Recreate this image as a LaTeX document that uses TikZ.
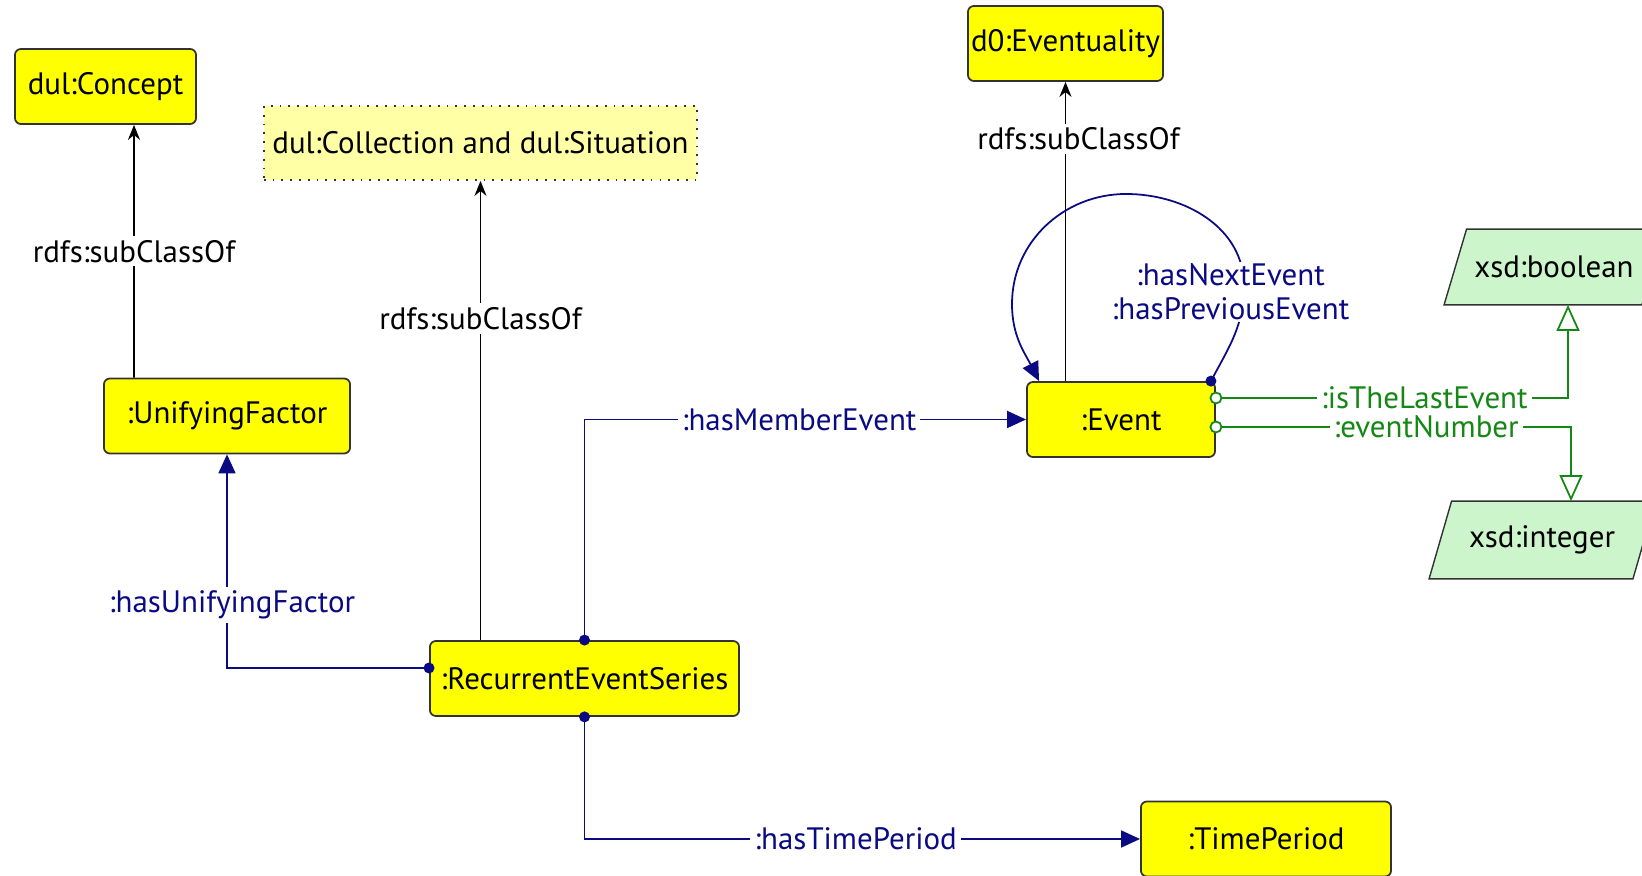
\documentclass[tikz,border=0pt]{standalone}
\usepackage{fontspec}
\setmainfont{PT Sans}
\usetikzlibrary{arrows.meta,backgrounds,positioning}
\definecolor{clsyellow}{RGB}{255,255,0}
\definecolor{anonyellow}{RGB}{255,255,165}
\definecolor{dtgreen}{RGB}{204,245,204}
\definecolor{objblue}{RGB}{10,10,130}
\definecolor{dpgreen}{RGB}{20,135,20}
\definecolor{boxline}{RGB}{50,50,50}

\begin{document}
\begin{tikzpicture}[
    x = 0.01cm, y = 0.01cm, % one unit is one pixel of the drawing
    font = \fontsize{8.8}{9.6}\selectfont,
    line width = 0.5pt % line style
  ]

  \tikzset{
    cls/.style = {rectangle, rounded corners = 0.06cm, draw = boxline, fill = clsyellow,
      minimum height = 0.75cm, inner sep = 0pt},
    anon/.style = {rectangle, draw = boxline, dotted, fill = anonyellow,
      minimum height = 0.74cm, inner sep = 0pt},
    dtype/.style = {rectangle, minimum height = 0.75cm, inner sep = 0pt},
    dtshape/.style = {draw = boxline, fill = dtgreen},
    lbl/.style = {fill = white, inner sep = 0.04cm},
    objlbl/.style = {lbl, text = objblue},
    datalbl/.style = {lbl, text = dpgreen},
    subcls/.style = {draw = black, -{Stealth[length = 0.15cm, width = 0.12cm]}},
    objprop/.style = {draw = objblue, -{Triangle[length = 0.19cm, width = 0.17cm]}},
    dataprop/.style = {draw = dpgreen, -{Triangle[open, fill = white, length = 0.26cm, width = 0.23cm]}},
    dot/.style = {fill = objblue},
    ring/.style = {draw = dpgreen, fill = white}
  }

  \useasboundingbox (0, 0) rectangle (1642, 876);

  % classes
  \node[cls, minimum width = 1.81cm] (concept) at (105.5, 789.5) {dul:Concept};
  \node[anon, minimum width = 4.33cm] (collection) at (480.5, 733) {dul:Collection and dul:Situation};
  \node[cls, minimum width = 1.95cm] (eventuality) at (1065.5, 832.5) {d0:Eventuality};
  \node[cls, minimum width = 2.46cm] (unifying) at (227, 460) {:UnifyingFactor};
  \node[cls, minimum width = 1.88cm] (event) at (1121, 456.5) {:Event};
  \node[cls, minimum width = 3.09cm] (series) at (584.5, 197.5) {:RecurrentEventSeries};
  \node[cls, minimum width = 2.50cm] (period) at (1266, 37) {:TimePeriod};

  % datatypes
  \node[dtype, minimum width = 1.96cm, minimum height = 0.74cm] (boolean) at (1554, 609) {xsd:boolean};
  \node[dtype, minimum width = 2.02cm, minimum height = 0.76cm] (integer) at (1542, 336) {xsd:integer};
  \begin{scope}[on background layer]
    \foreach \dt in {boolean, integer}
      \draw[dtshape] ([xshift = -0.11cm]\dt.south west) -- ([xshift = 0.115cm]\dt.north west)
        -- ([xshift = 0.115cm]\dt.north east) -- ([xshift = -0.11cm]\dt.south east) -- cycle;
  \end{scope}

  % subclass links
  \draw[subcls] ([xshift = -0.93cm]unifying.north) -- node[lbl] {rdfs:subClassOf} ([xshift = 0.285cm]concept.south);
  \draw[subcls] (series.north -| collection.south) -- node[lbl, pos = 0.7] {rdfs:subClassOf} (collection.south);
  \draw[subcls] (event.north -| eventuality.south) -- node[lbl, pos = 0.81, xshift = 0.13cm] {rdfs:subClassOf} (eventuality.south);

  % object properties
  \draw[objprop] ([yshift = 0.105cm]series.west) -| node[objlbl, pos = 0.647, xshift = 0.05cm] {:hasUnifyingFactor} (unifying.south);
  \draw[objprop] (series.north) |- node[objlbl, pos = 0.743] {:hasMemberEvent} (event.west);
  \draw[objprop] (series.south) |- node[objlbl, pos = 0.744] {:hasTimePeriod} (period.west);
  \draw[objprop] ([xshift = -0.05cm]event.north east) to[out = 62, in = -90] (1244, 590)
    to[out = 90, in = 0] (1126, 682) to[out = 180, in = 90] (1012, 572)
    to[out = -90, in = 117] ([xshift = 0.13cm]event.north west);
  \node[objlbl, align = center, inner sep = 0.02cm] (loopname) at (1230.5, 584) {:hasNextEvent\\:hasPreviousEvent};

  \fill[dot] ([yshift = 0.105cm]series.west) circle (5.5);
  \fill[dot] (series.north) circle (5.5);
  \fill[dot] (series.south) circle (5.5);
  \fill[dot] ([xshift = -0.05cm]event.north east) circle (5.5);

  % data properties
  \draw[dataprop] ([yshift = 0.215cm]event.east) -| node[datalbl, pos = 0.296] {:isTheLastEvent}
    ([xshift = 0.14cm]boolean.south);
  \draw[dataprop] ([yshift = -0.075cm]event.east) -| node[datalbl, pos = 0.296] {:eventNumber}
    ([xshift = 0.29cm]integer.north);
  \draw[ring] ([yshift = 0.215cm]event.east) circle (5.5);
  \draw[ring] ([yshift = -0.075cm]event.east) circle (5.5);
\end{tikzpicture}
\end{document}
